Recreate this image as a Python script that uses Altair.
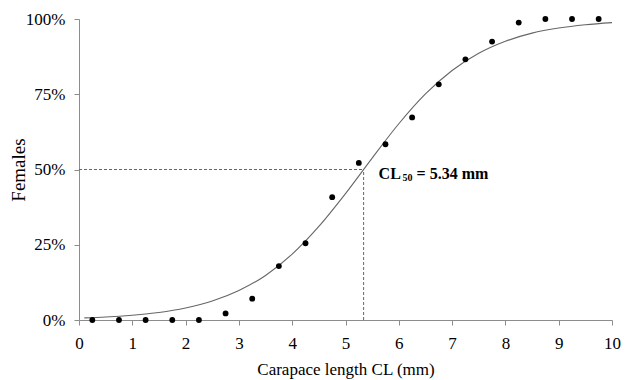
import altair as alt
import pandas as pd

# observed proportions of females per size class
cl_mid = [0.25, 0.75, 1.25, 1.75, 2.25, 2.75, 3.25, 3.75, 4.25, 4.75,
          5.25, 5.75, 6.25, 6.75, 7.25, 7.75, 8.25, 8.75, 9.25, 9.75]
females = [0.0, 0.0, 0.0, 0.0, 0.0, 0.022, 0.071, 0.179, 0.255, 0.408,
           0.522, 0.584, 0.673, 0.783, 0.866, 0.925, 0.988, 1.0, 1.0, 1.0]

# fitted curve
curve_x = [0.1, 0.5, 1.0, 1.5, 2.0, 2.5, 3.0, 3.5, 4.0, 4.5, 5.0,
           5.5, 6.0, 6.5, 7.0, 7.5, 8.0, 8.5, 9.0, 9.5, 10.0]
curve_y = [0.007, 0.010, 0.016, 0.025, 0.040, 0.063, 0.098, 0.148, 0.219, 0.311, 0.420,
           0.538, 0.652, 0.751, 0.829, 0.886, 0.926, 0.953, 0.970, 0.981, 0.988]

cl50 = 5.34
p50 = 0.5

x_ticks = list(range(0, 11))
y_ticks = [0, 0.25, 0.5, 0.75, 1.0]

FONT = "Liberation Serif"
AXIS_COL = "#8c8c8c"

pts = pd.DataFrame({"x": cl_mid, "y": females})
crv = pd.DataFrame({"x": curve_x, "y": curve_y})
ref = pd.DataFrame({"x0": [0], "x1": [cl50], "y0": [0], "y1": [p50]})

xs = alt.Scale(domain=[0, 10], nice=False, zero=False)
ys = alt.Scale(domain=[0, 1], nice=False)

xaxis = alt.Axis(values=x_ticks, format="d", title="Carapace length CL (mm)", grid=False,
                 tickSize=5, labelPadding=10, titlePadding=10, domainColor=AXIS_COL,
                 tickColor=AXIS_COL, labelFont=FONT, labelFontSize=17, labelColor="black",
                 titleFont=FONT, titleFontSize=17, titleFontWeight="normal", titleColor="black",
                 labelFlush=False)
yaxis = alt.Axis(values=y_ticks, format=".0%", title="Females", grid=False,
                 tickSize=5, labelPadding=9, titlePadding=1, titleBaseline="alphabetic",
                 domainColor=AXIS_COL,
                 tickColor=AXIS_COL, labelFont=FONT, labelFontSize=17, labelColor="black",
                 titleFont=FONT, titleFontSize=19, titleFontWeight="normal", titleColor="black",
                 labelFlush=False)

hline = alt.Chart(ref).mark_rule(color="#666666", strokeDash=[3, 2], strokeWidth=1).encode(
    x=alt.X("x0:Q", scale=xs, axis=xaxis), x2="x1", y=alt.Y("y1:Q", scale=ys, axis=yaxis))
vline = alt.Chart(ref).mark_rule(color="#666666", strokeDash=[3, 2], strokeWidth=1).encode(
    x=alt.X("x1:Q", scale=xs), y=alt.Y("y0:Q", scale=ys), y2="y1")

line = alt.Chart(crv).mark_line(color="#666666", strokeWidth=1.1, interpolate="monotone").encode(
    x=alt.X("x:Q", scale=xs), y=alt.Y("y:Q", scale=ys))

points = alt.Chart(pts).mark_circle(color="black", opacity=1, size=34).encode(
    x=alt.X("x:Q", scale=xs), y=alt.Y("y:Q", scale=ys))

ann_base = alt.Chart(ref)
t1 = ann_base.mark_text(text="CL", font=FONT, fontSize=16, fontWeight="bold", align="left",
                        baseline="alphabetic", dx=15, dy=9.5, color="black").encode(
    x=alt.X("x1:Q", scale=xs), y=alt.Y("y1:Q", scale=ys))
t2 = ann_base.mark_text(text="50", font=FONT, fontSize=10, fontWeight="bold", align="left",
                        baseline="alphabetic", dx=39, dy=11.5, color="black").encode(
    x=alt.X("x1:Q", scale=xs), y=alt.Y("y1:Q", scale=ys))
t3 = ann_base.mark_text(text="= 5.34 mm", font=FONT, fontSize=16, fontWeight="bold", align="left",
                        baseline="alphabetic", dx=53, dy=9.5, color="black").encode(
    x=alt.X("x1:Q", scale=xs), y=alt.Y("y1:Q", scale=ys))

chart = alt.layer(hline, vline, line, points, t1, t2, t3).properties(
    width=533, height=301,
    autosize=alt.AutoSizeParams(type="none"),
    padding={"left": 71, "top": 11, "right": 9, "bottom": 60},
    background="white",
).configure_view(stroke=None)

chart.save("out.html", embed_options={"renderer": "svg", "actions": False})
